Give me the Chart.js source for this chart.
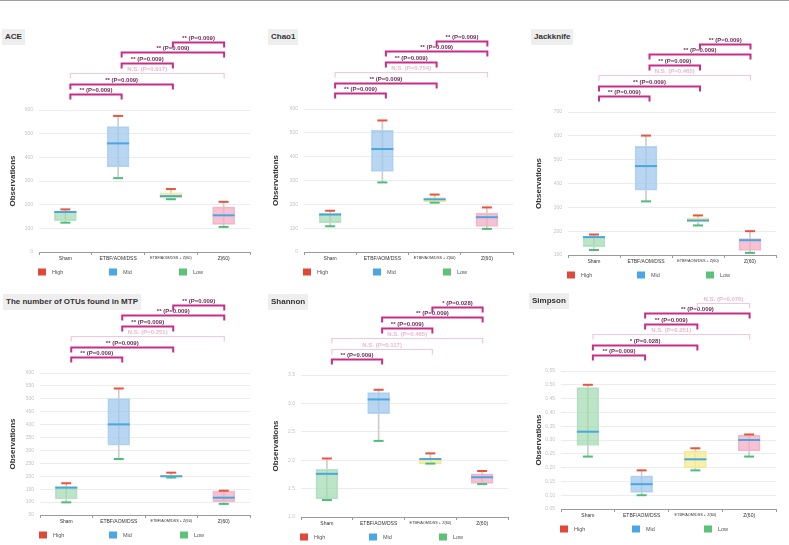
<!DOCTYPE html>
<html>
<head>
<meta charset="utf-8">
<script src="https://cdn.jsdelivr.net/npm/chart.js@4.4.0/dist/chart.umd.min.js"></script>
<style>
  body { margin: 0; width: 789px; height: 545px; position: relative; background: #fff; overflow: hidden;
         font-family: "Liberation Sans", Arial, sans-serif; }
  .topline { position: absolute; left: 0; top: 0; width: 789px; height: 1px; background: #a39d9d; }
  canvas { position: absolute; }
  .ttl { position: absolute; background: #eeeeee; color: #333; font-weight: bold; font-size: 8px;
         line-height: 8px; padding: 4px 3px; z-index: 2; }
</style>
</head>
<body>
<div class="topline"></div>

<script>
// groups on the x axis
var groups = ['Sham', 'ETBF/AOM/DSS', 'ETBF/AOM/DSS + Z(60)', 'Z(60)'];

// box plot summaries (max / q3 / median / q1 / min) per metric
var aceMax = [180, 575, 266, 212];
var aceQ3  = [173, 530, 250, 191];
var aceMed = [169, 459, 236, 155];
var aceQ1  = [132, 360, 227, 117];
var aceMin = [124, 312, 223, 106];

var chaoMax = [173, 552, 241, 187];
var chaoQ3  = [163, 510, 228, 163];
var chaoMed = [157, 432, 221, 146];
var chaoQ1  = [122, 338, 211, 107];
var chaoMin = [108, 292, 207, 97];

var jackMax = [186, 601, 266, 200];
var jackQ3  = [179, 556, 256, 169];
var jackMed = [175, 473, 245, 162];
var jackQ1  = [135, 372, 238, 119];
var jackMin = [121, 325, 224, 109];

var otuMax = [173, 540, 214, 144];
var otuQ3  = [160, 501, 204, 143];
var otuMed = [156, 401, 200, 117];
var otuQ1  = [112, 320, 197, 102];
var otuMin = [99, 267, 195, 93];

var shanMax = [2.03, 3.24, 2.12, 1.81];
var shanQ3  = [1.84, 3.19, 2.03, 1.76];
var shanMed = [1.76, 3.07, 2.02, 1.70];
var shanQ1  = [1.32, 2.82, 1.94, 1.59];
var shanMin = [1.30, 2.34, 1.94, 1.58];

var simpMax = [0.50, 0.19, 0.27, 0.32];
var simpQ3  = [0.49, 0.17, 0.26, 0.318];
var simpMed = [0.33, 0.14, 0.23, 0.30];
var simpQ1  = [0.28, 0.11, 0.20, 0.26];
var simpMin = [0.24, 0.10, 0.19, 0.24];

// pairwise tests, bottom bracket first: [group a, group b, label]
var aceTests = [[0,1,'** (P=0.009)'], [0,2,'** (P=0.009)'], [0,3,'N.S. (P=0.917)'], [1,2,'** (P=0.009)'], [1,3,'** (P=0.009)'], [2,3,'** (P=0.009)']];
var chaoTests = [[0,1,'** (P=0.009)'], [0,2,'** (P=0.009)'], [0,3,'N.S. (P=0.754)'], [1,2,'** (P=0.009)'], [1,3,'** (P=0.009)'], [2,3,'** (P=0.009)']];
var jackTests = [[0,1,'** (P=0.009)'], [0,2,'** (P=0.009)'], [0,3,'N.S. (P=0.465)'], [1,2,'** (P=0.009)'], [1,3,'** (P=0.009)'], [2,3,'** (P=0.009)']];
var otuTests = [[0,1,'** (P=0.009)'], [0,2,'** (P=0.009)'], [0,3,'N.S. (P=0.251)'], [1,2,'** (P=0.009)'], [1,3,'** (P=0.009)'], [2,3,'** (P=0.009)']];
var shanTests = [[0,1,'** (P=0.009)'], [0,2,'N.S. (P=0.117)'], [0,3,'N.S. (P=0.465)'], [1,2,'** (P=0.009)'], [1,3,'** (P=0.009)'], [2,3,'* (P=0.028)']];
var simpTests = [[0,1,'** (P=0.009)'], [0,2,'* (P=0.028)'], [0,3,'N.S. (P=0.251)'], [1,2,'** (P=0.009)'], [1,3,'** (P=0.009)'], [2,3,'N.S. (P=0.076)']];

// y axis ranges: [min, max, step, decimals]
var aceAxis  = [0, 600, 100, 0];
var chaoAxis = [0, 600, 100, 0];
var jackAxis = [100, 700, 100, 0];
var otuAxis  = [50, 600, 50, 0];
var shanAxis = [1, 3.5, 0.5, 1];
var simpAxis = [0.05, 0.55, 0.05, 2];

var legendNames = ['High', 'Mid', 'Low'];

var boxFill   = ['rgba(160,218,176,0.7)', 'rgba(160,200,238,0.75)', 'rgba(246,238,150,0.8)', 'rgba(243,172,196,0.75)'];
var boxEdge   = ['#bfe3c9', '#bcd6f1', '#eee79f', '#f1bccd'];
var markColor = ['#e8553d', '#4aa6e0', '#4cbd7b'];
var legColor  = ['#e0483a', '#4aa6e6', '#5cc278'];

var CANVAS_H = 292;

var panels = [
  { title: 'ACE', x: 0, y: 0, area: [39, 251, 110, 252], tx: 2, ty: 29,
    s: [aceMax, aceQ3, aceMed, aceQ1, aceMin], tests: aceTests, axis: aceAxis },
  { title: 'Chao1', x: 263, y: 0, area: [41, 252, 109, 252], tx: 268, ty: 29,
    s: [chaoMax, chaoQ3, chaoMed, chaoQ1, chaoMin], tests: chaoTests, axis: chaoAxis },
  { title: 'Jackknife', x: 526, y: 0, area: [42, 256, 112, 255], tx: 531, ty: 29,
    s: [jackMax, jackQ3, jackMed, jackQ1, jackMin], tests: jackTests, axis: jackAxis },
  { title: 'The number of OTUs found in MTP', x: 0, y: 272, area: [40, 257, 101, 243], tx: 3, ty: 294,
    s: [otuMax, otuQ3, otuMed, otuQ1, otuMin], tests: otuTests, axis: otuAxis },
  { title: 'Shannon', x: 263, y: 272, area: [38, 245, 103, 245], tx: 268, ty: 294,
    s: [shanMax, shanQ3, shanMed, shanQ1, shanMin], tests: shanTests, axis: shanAxis },
  { title: 'Simpson', x: 526, y: 272, area: [35, 257, 99, 237], tx: 529, ty: 293,
    s: [simpMax, simpQ3, simpMed, simpQ1, simpMin], tests: simpTests, axis: simpAxis }
];

// significance brackets above the plot
var bracketPlugin = {
  id: 'brackets',
  afterDraw: function(chart, args, opts) {
    var ctx = chart.ctx, xs = chart.scales.x, top = chart.chartArea.top;
    ctx.save();
    opts.tests.forEach(function(t, k) {
      var y = Math.round(top - 16 - k * 10.4) + 0.5;
      var x1 = xs.getPixelForValue(t[0]) + 5 - 1.5 * t[0];
      var x2 = xs.getPixelForValue(t[1]) + 5 - 1.5 * t[1];
      var ns = t[2].indexOf('N.S.') === 0;
      ctx.strokeStyle = ns ? '#f4c8db' : '#c92d8a';
      ctx.lineWidth = ns ? 1.2 : 2;
      ctx.beginPath();
      ctx.moveTo(x1, y + 5); ctx.lineTo(x1, y); ctx.lineTo(x2, y); ctx.lineTo(x2, y + 5);
      ctx.stroke();
      ctx.fillStyle = ns ? '#e8b8cd' : '#6e2d58';
      ctx.font = 'bold 6px "Liberation Sans", Arial, sans-serif';
      ctx.textAlign = 'center';
      ctx.textBaseline = 'bottom';
      ctx.fillText(t[2], (x1 + x2) / 2, y - 1.5);
    });
    ctx.restore();
  }
};

// High / Mid / Low key under the axis
var keyPlugin = {
  id: 'key',
  afterDraw: function(chart) {
    var ctx = chart.ctx, a = chart.chartArea;
    var w = a.right - a.left, yc = a.bottom + 20;
    ctx.save();
    ctx.font = '5.5px "Liberation Sans", Arial, sans-serif';
    ctx.textBaseline = 'middle';
    ctx.textAlign = 'left';
    legendNames.forEach(function(n, i) {
      var x = a.left - 1 + Math.round(i * 0.335 * w);
      ctx.fillStyle = legColor[i];
      ctx.fillRect(x, yc - 3.5, 8, 7);
      ctx.fillStyle = '#555';
      ctx.fillText(n, x + 14, yc);
    });
    ctx.restore();
  }
};

function makeChart(p) {
  var cv = document.createElement('canvas');
  cv.width = 263; cv.height = CANVAS_H;
  cv.style.left = p.x + 'px'; cv.style.top = p.y + 'px';
  document.body.appendChild(cv);

  var t = document.createElement('div');
  t.className = 'ttl';
  t.textContent = p.title;
  t.style.left = p.tx + 'px'; t.style.top = p.ty + 'px';
  document.body.appendChild(t);

  var mx = p.s[0], q3 = p.s[1], md = p.s[2], q1 = p.s[3], mn = p.s[4];
  var ax = p.axis;
  var font = '"Liberation Sans", Arial, sans-serif';

  function mark(label, data, r, i) {
    return { type: 'line', label: label, data: data, showLine: false,
      pointStyle: 'line', pointRadius: r, pointBorderWidth: 2,
      pointBorderColor: markColor[i], backgroundColor: markColor[i], order: i + 1 };
  }

  new Chart(cv, {
    type: 'bar',
    data: {
      labels: groups,
      datasets: [
        mark('High', mx, 5, 0),
        mark('Mid', md, 11, 1),
        mark('Low', mn, 5, 2),
        { type: 'bar', label: 'box', data: q1.map(function(v, i) { return [v, q3[i]]; }),
          backgroundColor: boxFill, borderColor: boxEdge, borderWidth: 1, borderSkipped: false,
          barThickness: 22, grouped: false, order: 4 },
        { type: 'bar', label: 'whisker', data: mn.map(function(v, i) { return [v, mx[i]]; }),
          backgroundColor: '#cdcdcd', barThickness: 1, grouped: false, order: 5 }
      ]
    },
    options: {
      responsive: false,
      animation: false,
      devicePixelRatio: 1,
      events: [],
      layout: { padding: { left: 0, right: 263 - p.area[1], top: p.area[2], bottom: 0 } },
      plugins: {
        legend: { display: false },
        tooltip: { enabled: false },
        brackets: { tests: p.tests }
      },
      scales: {
        x: {
          offset: true,
          grid: { display: true, drawOnChartArea: false, drawTicks: true, tickLength: 3, color: '#9a9a9a', offset: true },
          border: { display: true, color: '#9a9a9a' },
          ticks: {
            autoSkip: false, maxRotation: 0, minRotation: 0, padding: 1, color: '#333',
            font: function(c) { return { family: font, size: c.index === 2 ? 3.8 : 5 }; }
          },
          afterFit: function(s) { s.height = CANVAS_H - p.area[3]; }
        },
        y: {
          min: ax[0], max: ax[1],
          grid: { color: '#ececec', drawTicks: false },
          border: { display: false },
          ticks: { stepSize: ax[2], padding: 6, color: '#c4c4c4', font: { family: font, size: 5 },
                   callback: function(v) { return Number(v).toFixed(ax[3]); } },
          title: { display: true, text: 'Observations', color: '#333',
                   font: { family: font, size: 8, weight: 'bold' }, padding: { top: 8, bottom: 0 } },
          afterFit: function(s) { s.width = p.area[0]; }
        }
      }
    },
    plugins: [bracketPlugin, keyPlugin]
  });
}

window.onload = function() {
  panels.forEach(makeChart);
};
</script>
</body>
</html>
